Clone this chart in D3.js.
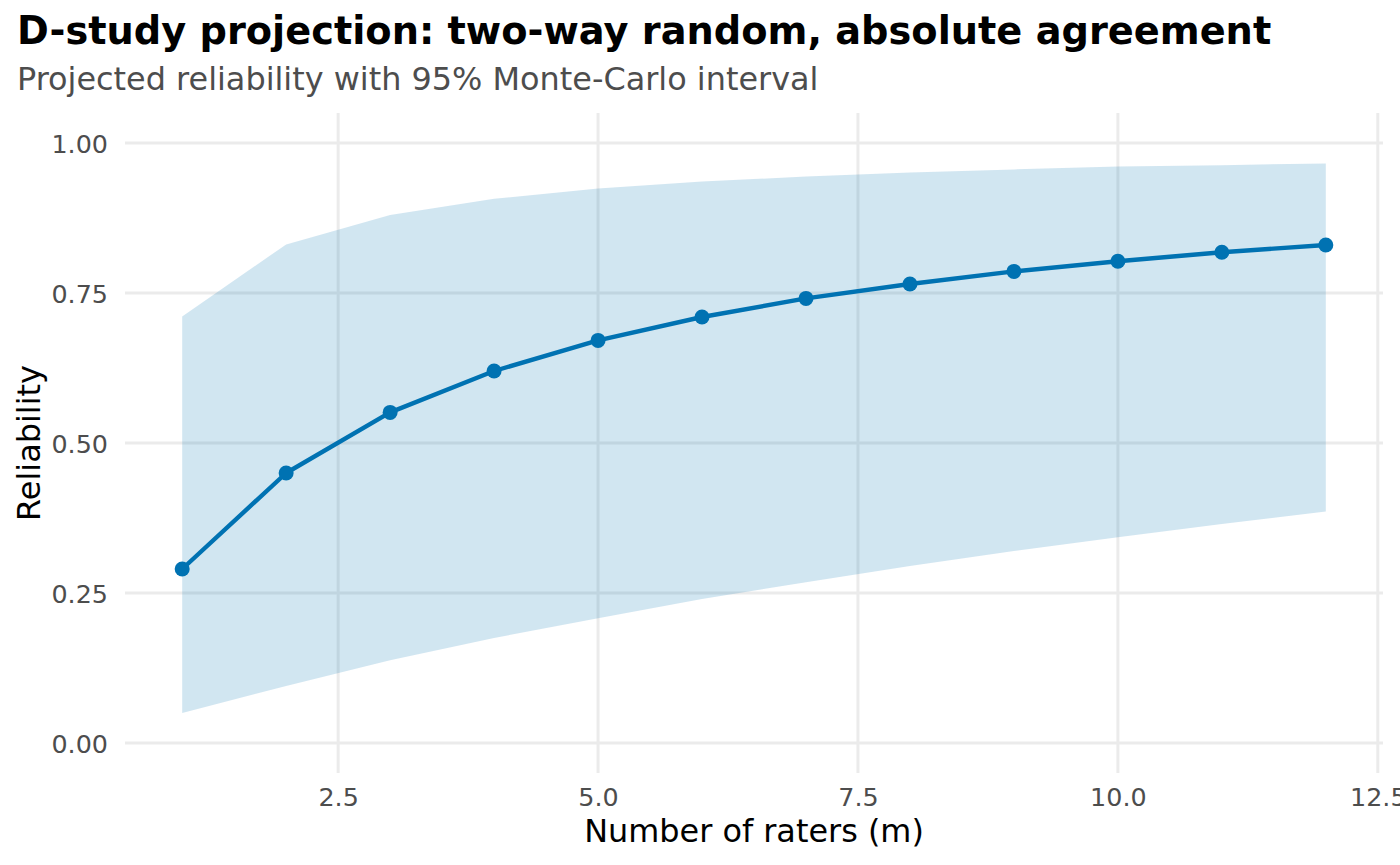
<!DOCTYPE html>
<html>
<head>
<meta charset="utf-8">
<script src="https://cdn.jsdelivr.net/npm/d3@7"></script>
<style>
  body { margin: 0; background: #fff; }
  text { font-family: "DejaVu Sans", sans-serif; }
</style>
</head>
<body>
<div id="chart"></div>
<script>
// D-study projection: number of raters vs projected reliability
const raters = [1, 2, 3, 4, 5, 6, 7, 8, 9, 10, 11, 12];
const reliability = [0.290, 0.450, 0.551, 0.620, 0.671, 0.710, 0.741, 0.765, 0.786, 0.803, 0.818, 0.830];
const upper = [0.711, 0.831, 0.880, 0.907, 0.924, 0.936, 0.944, 0.951, 0.956, 0.961, 0.963, 0.966];
const lower = [0.050, 0.095, 0.138, 0.175, 0.208, 0.240, 0.268, 0.295, 0.320, 0.343, 0.365, 0.386];
const xTicks = [2.5, 5.0, 7.5, 10.0, 12.5];
const yTicks = [0, 0.25, 0.5, 0.75, 1.0];

const W = 1400, H = 865;
const margin = { top: 113, right: 17, bottom: 92, left: 125 },
      width = W - margin.left - margin.right,
      height = H - margin.top - margin.bottom;

const data = raters.map((m, i) => ({ m: m, r: reliability[i], lo: lower[i], hi: upper[i] }));

const svgRoot = d3.select("#chart")
    .append("svg")
    .attr("width", W)
    .attr("height", H);

const svg = svgRoot.append("g")
    .attr("transform", `translate(${margin.left},${margin.top})`);

// ggplot-like 5% expansion
const x = d3.scaleLinear().domain([0.45, 12.55]).range([0, width]);
const y = d3.scaleLinear().domain([-0.05, 1.05]).range([height, 0]);

// Gridlines
svg.append("g").selectAll("line")
    .data(yTicks).join("line")
    .attr("x1", 0).attr("x2", width)
    .attr("y1", d => y(d)).attr("y2", d => y(d))
    .attr("stroke", "#ebebeb").attr("stroke-width", 3);

svg.append("g").selectAll("line")
    .data(xTicks).join("line")
    .attr("y1", 0).attr("y2", height)
    .attr("x1", d => x(d)).attr("x2", d => x(d))
    .attr("stroke", "#ebebeb").attr("stroke-width", 3);

// Ribbon
svg.append("path")
    .datum(data)
    .attr("fill", "#0072B2")
    .attr("fill-opacity", 0.18)
    .attr("d", d3.area().x(d => x(d.m)).y0(d => y(d.lo)).y1(d => y(d.hi)));

// Line
svg.append("path")
    .datum(data)
    .attr("fill", "none")
    .attr("stroke", "#0072B2")
    .attr("stroke-width", 4.4)
    .attr("stroke-linejoin", "round")
    .attr("d", d3.line().x(d => x(d.m)).y(d => y(d.r)));

// Points
svg.append("g").selectAll("circle")
    .data(data).join("circle")
    .attr("cx", d => x(d.m)).attr("cy", d => y(d.r))
    .attr("r", 7.5)
    .attr("fill", "#0072B2");

// Axes (labels only, like theme_minimal)
const xAxis = svg.append("g")
    .attr("transform", `translate(0,${height})`)
    .call(d3.axisBottom(x).tickValues(xTicks).tickFormat(d3.format(".1f")).tickSize(0).tickPadding(33));
const yAxis = svg.append("g")
    .call(d3.axisLeft(y).tickValues(yTicks).tickFormat(d3.format(".2f")).tickSize(0).tickPadding(17));

[xAxis, yAxis].forEach(a => {
    a.select(".domain").remove();
    a.selectAll("text")
        .style("font-family", "DejaVu Sans")
        .style("font-size", "25.4px")
        .attr("fill", "#4d4d4d");
});
yAxis.selectAll("text").attr("dy", "0.36em");
xAxis.selectAll("text").attr("dy", "0");

// Axis titles
svgRoot.append("text")
    .attr("x", margin.left + width / 2)
    .attr("y", 842)
    .attr("text-anchor", "middle")
    .style("font-size", "31.9px")
    .attr("fill", "#000")
    .text("Number of raters (m)");

svgRoot.append("text")
    .attr("transform", `translate(40,${margin.top + height / 2}) rotate(-90)`)
    .attr("text-anchor", "middle")
    .style("font-size", "31.9px")
    .attr("fill", "#000")
    .text("Reliability");

// Title and subtitle
svgRoot.append("text")
    .attr("x", 17).attr("y", 44)
    .style("font-size", "38.3px")
    .style("font-weight", "bold")
    .attr("fill", "#000")
    .text("D-study projection: two-way random, absolute agreement");

svgRoot.append("text")
    .attr("x", 17).attr("y", 90)
    .style("font-size", "31.9px")
    .attr("fill", "#4d4d4d")
    .text("Projected reliability with 95% Monte-Carlo interval");
</script>
</body>
</html>
